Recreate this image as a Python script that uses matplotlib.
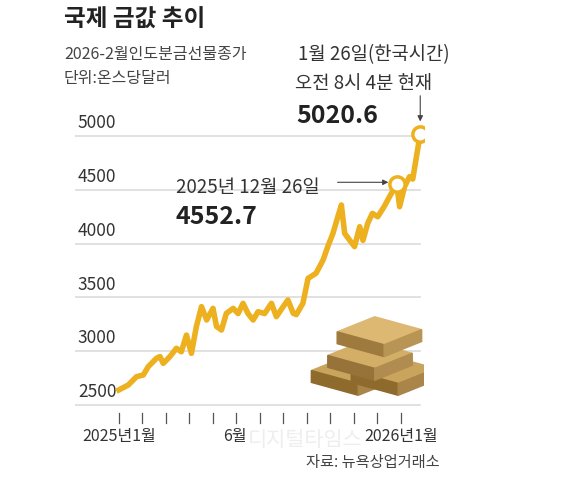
import matplotlib
matplotlib.use("Agg")
import matplotlib.pyplot as plt
from matplotlib.patches import Polygon

plt.rcParams['font.family'] = ['Noto Sans CJK KR', 'DejaVu Sans']

months = [0, 0.4, 0.75, 1.04, 1.25, 1.6, 1.75, 1.89, 2.17, 2.45, 2.66, 2.88, 3.09, 3.3, 3.52, 3.74, 4.01,
          4.16, 4.37, 4.58, 4.87, 5.08, 5.29, 5.5, 5.72, 5.93, 6.21, 6.5, 6.71, 7.0, 7.2, 7.43, 7.56,
          7.84, 8.06, 8.4, 8.7, 8.9, 9.12, 9.33, 9.48, 9.62, 9.84, 10.04, 10.26, 10.4, 10.6, 10.8,
          11.03, 11.3, 11.53, 11.84, 11.96, 12.17, 12.38, 12.52, 12.84]
prices = [2640, 2686, 2763, 2779, 2856, 2934, 2950, 2887, 2949, 3027, 2995, 3150, 2980, 3228, 3414,
          3290, 3398, 3230, 3197, 3352, 3398, 3350, 3445, 3350, 3290, 3367, 3350, 3445, 3321, 3414,
          3476, 3352, 3340, 3445, 3677, 3724, 3848, 3972, 4095, 4250, 4359, 4095, 4030, 3972, 4157,
          4030, 4188, 4281, 4250, 4343, 4436, 4552.7, 4343, 4529, 4622, 4600, 5020.6]
yticks = [2500, 3000, 3500, 4000, 4500, 5000]

W, H = 567, 478
fig = plt.figure(figsize=(W/100, H/100), dpi=100)
fig.patch.set_facecolor('white')

def fx(px): return px / W
def fy(py): return 1 - py / H

x0, x1, y0, y1 = -1.87, 13.0, 2314, 5149
ax = fig.add_axes([fx(75), fy(425), fx(424) - fx(75), fy(120) - fy(425)])
ax.set_xlim(x0, x1); ax.set_ylim(y0, y1)
ax.axis('off')

gold = '#EDB01F'
for v in yticks:
    ax.plot([x0, 12.85], [v, v], color='#dcdcdc', lw=1.2, zorder=1)
    ax.text(x0 + 0.12, v + 35, str(v), fontsize=12.5, color='#333333', va='bottom', ha='left')
for m in range(13):
    ax.plot([m, m], [2426, 2333], color='#555555', lw=0.9)

def bar(cx, cy, c1, c2, c3):
    top = [(cx, cy), (cx + 1.6, cy + 140), (cx + 3.6, cy + 20), (cx + 2.0, cy - 120)]
    front = [(cx, cy), (cx + 2.0, cy - 120), (cx + 2.0, cy - 230), (cx, cy - 110)]
    side = [(cx + 2.0, cy - 120), (cx + 3.6, cy + 20), (cx + 3.6, cy - 90), (cx + 2.0, cy - 230)]
    for pts, c in ((top, c1), (front, c2), (side, c3)):
        ax.add_patch(Polygon(pts, closed=True, color=c, zorder=2))
bar(8.2, 2820, '#c9a45c', '#8e6a2c', '#a9854a')
bar(9.9, 2820, '#c9a45c', '#8e6a2c', '#a9854a')
bar(8.9, 2960, '#d2ae67', '#97733a', '#b08c50')
bar(9.3, 3180, '#dcb873', '#9e7a3f', '#b89455')

ax.plot(months, prices, color=gold, lw=4, solid_joinstyle='round', zorder=3)
for m, p in ((months[51], prices[51]), (months[-1], prices[-1])):
    ax.plot(m, p, 'o', ms=11, mfc='white', mec=gold, mew=2.5, zorder=4)

ax.annotate('', xy=(11.6, 4570), xytext=(9.2, 4570),
            arrowprops=dict(arrowstyle='-|>', color='#444444', lw=0.8, mutation_scale=8))
ax.annotate('', xy=(12.84, 5110), xytext=(12.84, 5400),
            arrowprops=dict(arrowstyle='-|>', color='#444444', lw=0.8, mutation_scale=8), annotation_clip=False)

fig.text(fx(64), fy(20), '국제 금값 추이', fontsize=17, fontweight='bold', color='#222222', va='center')
fig.text(fx(64), fy(55), '2026-2월인도분금선물종가', fontsize=11.5, color='#444444', va='center')
fig.text(fx(64), fy(78), '단위:온스당달러', fontsize=11.5, color='#444444', va='center')
fig.text(fx(298), fy(55), '1월 26일(한국시간)', fontsize=13.5, color='#333333', va='center')
fig.text(fx(295), fy(84), '오전 8시 4분 현재', fontsize=13.5, color='#333333', va='center')
fig.text(fx(296), fy(116), '5020.6', fontsize=18, fontweight='bold', color='#222222', va='center')
fig.text(fx(176), fy(187), '2025년 12월 26일', fontsize=13.5, color='#333333', va='center')
fig.text(fx(176), fy(217), '4552.7', fontsize=18, fontweight='bold', color='#222222', va='center')

fig.text(fx(119), fy(437), '2025년1월', fontsize=11.5, color='#333333', ha='center', va='center')
fig.text(fx(235), fy(437), '6월', fontsize=11.5, color='#333333', ha='center', va='center')
fig.text(fx(401), fy(437), '2026년1월', fontsize=11.5, color='#333333', ha='center', va='center')
fig.text(fx(305), fy(440), '디지털타임스', fontsize=15, color='#eeeeee', ha='center', va='center', zorder=0)
fig.text(fx(440), fy(462), '자료: 뉴욕상업거래소', fontsize=11, color='#444444', ha='right', va='center')

fig.savefig('out.png', dpi=100, facecolor='white')
